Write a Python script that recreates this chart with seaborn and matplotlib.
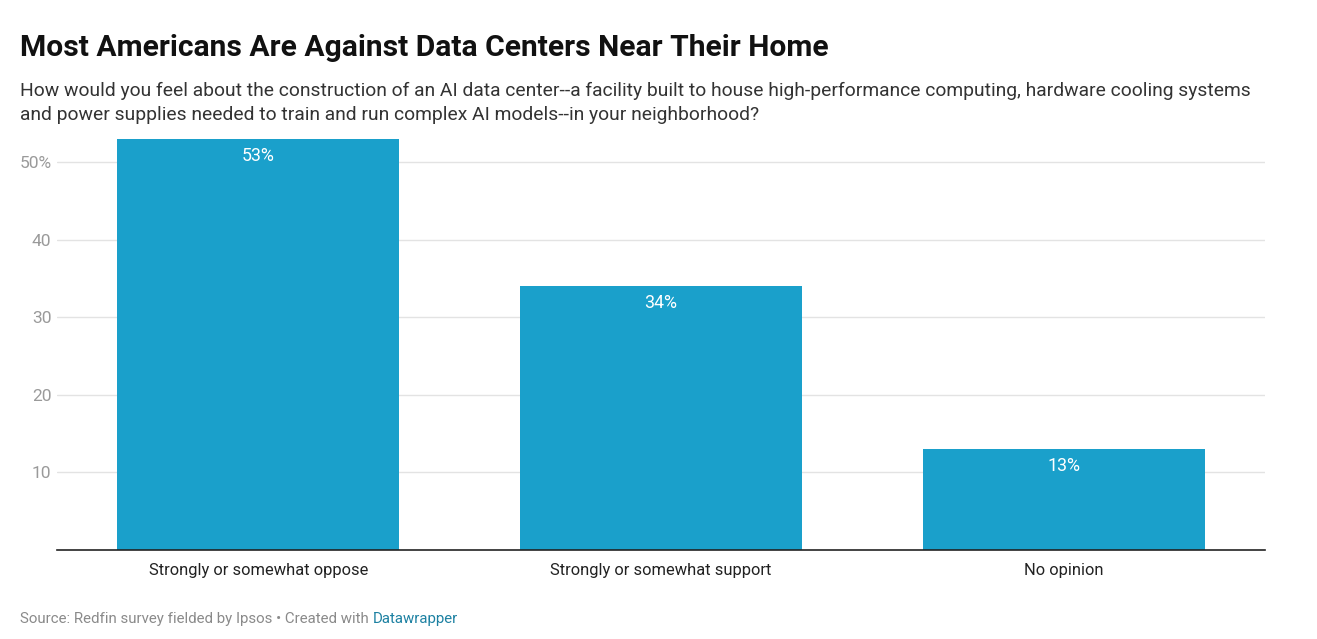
import pandas as pd
import matplotlib
matplotlib.use("Agg")
import matplotlib.pyplot as plt
import seaborn as sns

# data
categories = ["Strongly or somewhat oppose", "Strongly or somewhat support", "No opinion"]
shares = [53, 34, 13]
tick_values = [10, 20, 30, 40, 50]
tick_labels = ["10", "20", "30", "40", "50%"]

df = pd.DataFrame({"answer": categories, "share": shares})

sns.set_theme(style="white")
plt.rcParams["font.family"] = ["Roboto", "DejaVu Sans"]

fig = plt.figure(figsize=(13.17, 6.39), dpi=100)
ax = fig.add_axes([57 / 1317, 1 - 550 / 639, (1265 - 57) / 1317, 426.8 / 639])

sns.barplot(data=df, x="answer", y="share", color="#1aa0cb", saturation=1, width=0.70,
            linewidth=0, ax=ax)

ax.set_xlim(-0.5, 2.5)
ax.set_ylim(0, 55)
ax.set_yticks(tick_values)
ax.set_yticklabels(tick_labels)
ax.set_xlabel("")
ax.set_ylabel("")
ax.yaxis.grid(True, color="#e3e3e3", linewidth=1)
ax.set_axisbelow(True)
for side in ["top", "right", "left"]:
    ax.spines[side].set_visible(False)
ax.spines["bottom"].set_color("#222222")
ax.spines["bottom"].set_linewidth(1.2)
ax.tick_params(axis="y", length=0, pad=4, labelsize=12.5, labelcolor="#9a9a9a")
ax.tick_params(axis="x", length=0, pad=9, labelsize=11.9, labelcolor="#222222")

# value labels inside bars
for i, v in enumerate(shares):
    ax.text(i, v - 2.2, f"{v}%", ha="center", va="center", color="white", fontsize=12.8)

# title, subtitle, footer
fig.text(20 / 1317, 1 - 48 / 639, "Most Americans Are Against Data Centers Near Their Home",
         fontsize=21.6, fontweight="bold", color="#111111", va="center")
fig.text(20 / 1317, 1 - 103 / 639,
         "How would you feel about the construction of an AI data center--a facility built to house high-performance computing, hardware cooling systems\n"
         "and power supplies needed to train and run complex AI models--in your neighborhood?",
         fontsize=13.9, color="#333333", va="center", linespacing=1.38)

src = fig.text(20 / 1317, 1 - 619 / 639, "Source: Redfin survey fielded by Ipsos \u2022 Created with ",
               fontsize=10.8, color="#8a8a8a", va="center")
fig.canvas.draw()
bb = src.get_window_extent()
fig.text(bb.x1 / fig.bbox.width, 1 - 619 / 639, "Datawrapper", fontsize=10.8, color="#1d81a2", va="center")

fig.savefig("out.png", dpi=100)
